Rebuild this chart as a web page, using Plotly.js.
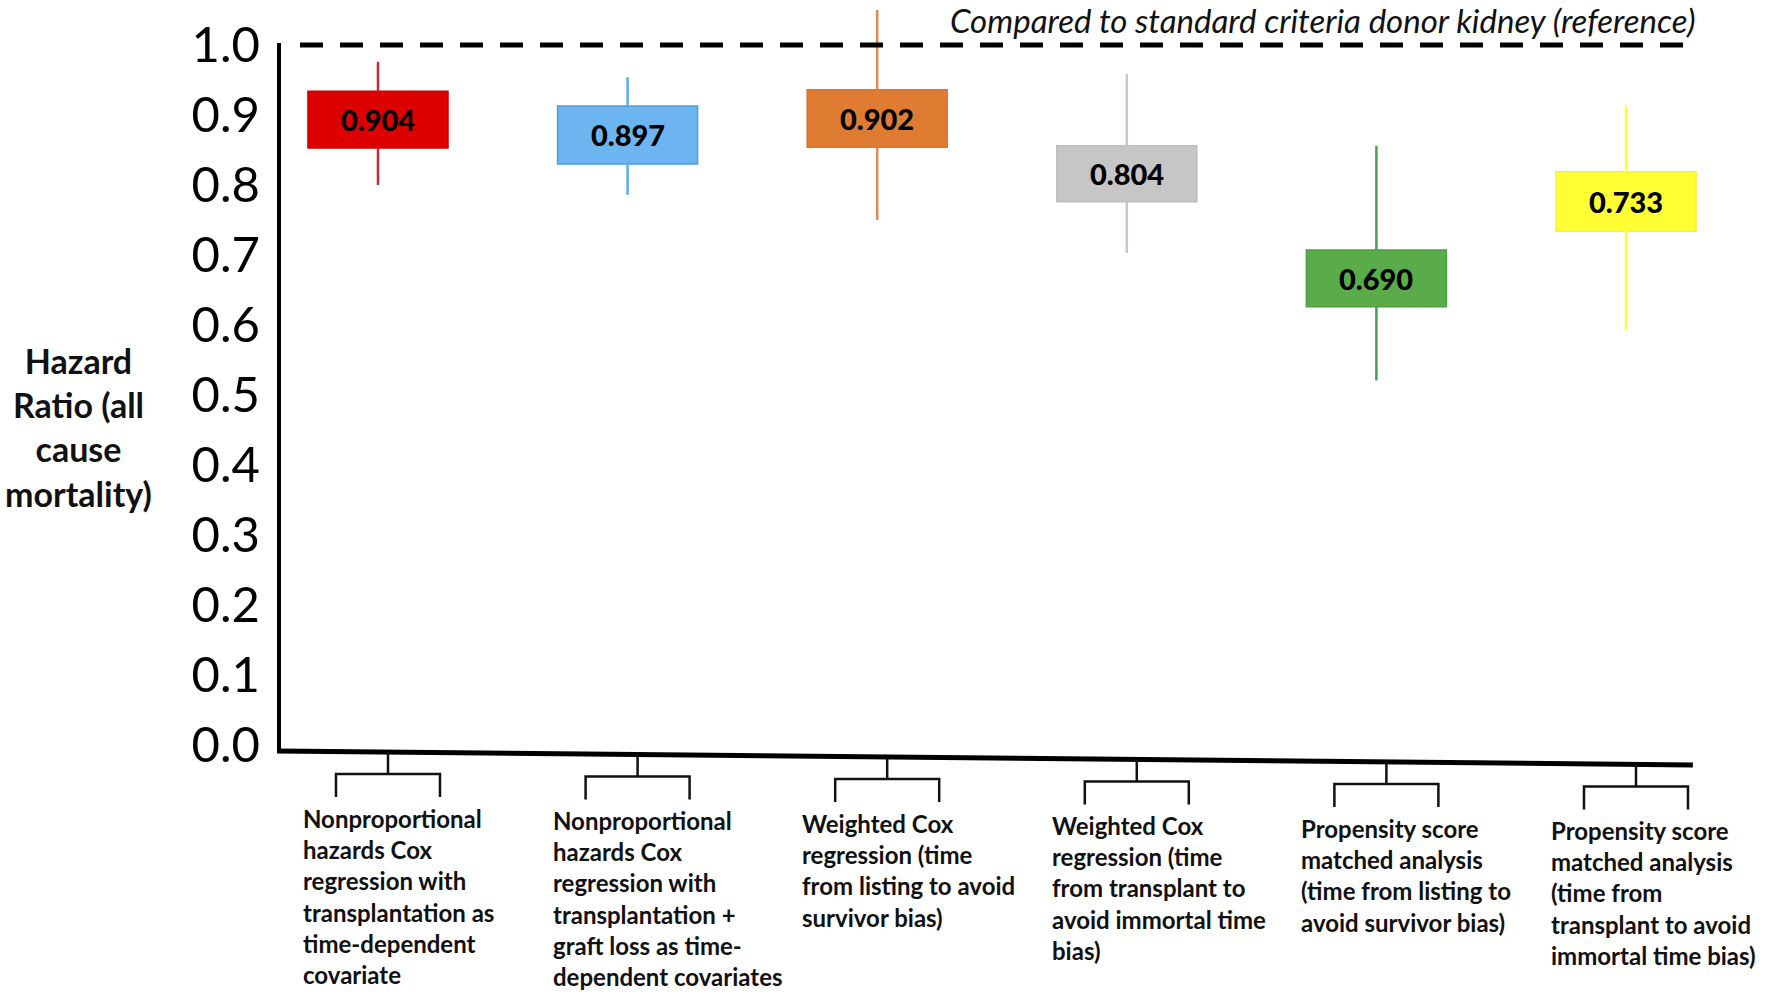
<!DOCTYPE html>
<html>
<head>
<meta charset="utf-8">
<script src="https://cdn.plot.ly/plotly-3.0.1.min.js"></script>
<style>html,body{margin:0;padding:0;background:#fff;}#chart{width:1772px;height:996px;}</style>
</head>
<body>
<div id="chart"></div>
<script>
// ---------- data ----------
const categories = [
  "Nonproportional<br>hazards Cox<br>regression with<br>transplantation as<br>time-dependent<br>covariate",
  "Nonproportional<br>hazards Cox<br>regression with<br>transplantation +<br>graft loss as time-<br>dependent covariates",
  "Weighted Cox<br>regression (time<br>from listing to avoid<br>survivor bias)",
  "Weighted Cox<br>regression (time<br>from transplant to<br>avoid immortal time<br>bias)",
  "Propensity score<br>matched analysis<br>(time from listing to<br>avoid survivor bias)",
  "Propensity score<br>matched analysis<br>(time from<br>transplant to avoid<br>immortal time bias)"
];
const hazardRatio = [0.904, 0.897, 0.902, 0.804, 0.690, 0.733];
const ciLow  = [0.800, 0.786, 0.750, 0.703, 0.521, 0.593];
const ciHigh = [0.976, 0.954, 1.050, 0.959, 0.856, 0.914];
const boxLow  = [0.853, 0.830, 0.854, 0.776, 0.626, 0.734];
const boxHigh = [0.934, 0.913, 0.936, 0.856, 0.707, 0.819];
const yTickVals = [0.0, 0.1, 0.2, 0.3, 0.4, 0.5, 0.6, 0.7, 0.8, 0.9, 1.0];
const yTickText = ["0.0","0.1","0.2","0.3","0.4","0.5","0.6","0.7","0.8","0.9","1.0"];
const referenceValue = 1.0;
const referenceText = "Compared to standard criteria donor kidney (reference)";
const yTitleText = "Hazard<br>Ratio (all<br>cause<br>mortality)";

// ---------- style ----------
const boxColors     = ["#dc0000", "#6cb5f0", "#e07b32", "#c6c6c6", "#5aac4a", "#ffff33"];
const boxEdgeColors = ["#d00000", "#4f9fdc", "#d8742c", "#bdbdbd", "#4e9f44", "#f4f430"];
const whiskerColors = ["#c42b37", "#5aaee6", "#e08a4e", "#c8c8c8", "#4a9e5c", "#ffff40"];
const FONT = "Lato, 'Open Sans', sans-serif";

const idx = categories.map((_, i) => i);
const PXX = 249.6, PXY = 700;          // px per data unit
const xL = -0.4046, xR = 5.268;         // axis line ends (data)
const yL = -6 / PXY, yR = -20 / PXY;    // slight tilt of drawn x axis
const axisY = xd => yL + (xd - xL) * (yR - yL) / (xR - xL);

const traces = [];
// boxes
traces.push({
  type: "bar",
  x: idx,
  base: boxLow,
  y: boxHigh.map((h, i) => h - boxLow[i]),
  width: 0.561,
  marker: { color: boxColors, line: { color: boxEdgeColors, width: 1.5 } },
  hoverinfo: "skip",
  showlegend: false
});
// whiskers (split around box)
idx.forEach(i => {
  traces.push({
    type: "scatter", mode: "lines",
    x: [i, i, null, i, i],
    y: [ciLow[i], boxLow[i], null, boxHigh[i], ciHigh[i]],
    line: { color: whiskerColors[i], width: 2.5 },
    hoverinfo: "skip", showlegend: false
  });
});

const shapes = [];
// y axis line
shapes.push({ type: "line", xref: "x", yref: "y", x0: -0.3966, x1: -0.3966, y0: yL, y1: 1.003,
  line: { color: "#000", width: 4 } });
// x axis line (slightly tilted as in the original)
shapes.push({ type: "line", xref: "x", yref: "y", x0: xL, x1: xR, y0: yL, y1: yR,
  line: { color: "#000", width: 5 } });
// reference dashed line
shapes.push({ type: "line", xref: "x", yref: "y", x0: -0.3125, x1: 5.284, y0: referenceValue, y1: referenceValue,
  line: { color: "#000", width: 5, dash: "23px,17px" } });
// brackets
idx.forEach(i => {
  const xc = i + 10 / PXX, half = 52 / PXX;
  const yA = axisY(xc), yH = yA - 22 / PXY, yB = yA - 45 / PXY;
  shapes.push({
    type: "path", xref: "x", yref: "y",
    path: `M ${xc - half},${yB} L ${xc - half},${yH} L ${xc + half},${yH} L ${xc + half},${yB} M ${xc},${yA} L ${xc},${yH}`,
    line: { color: "#111", width: 2.5 }
  });
});

const annotations = [];
// box value labels
idx.forEach(i => {
  annotations.push({
    xref: "x", yref: "y", x: i, y: (boxLow[i] + boxHigh[i]) / 2,
    text: hazardRatio[i].toFixed(3), showarrow: false,
    xanchor: "center", yanchor: "middle",
    font: { family: FONT, size: 29, color: "#000", weight: 900 }
  });
});
// category labels
idx.forEach(i => {
  annotations.push({
    xref: "x", yref: "y", x: i, xshift: -77, y: axisY(i) - 50 / PXY,
    text: "<b>" + categories[i] + "</b>", showarrow: false,
    xanchor: "left", yanchor: "top", align: "left",
    font: { family: FONT, size: 24, color: "#111" }
  });
});
// reference caption
annotations.push({
  xref: "paper", yref: "paper", x: 0.9979, y: 1 - 20 / 996,
  text: "<i>" + referenceText + "</i>", showarrow: false,
  xanchor: "right", yanchor: "middle",
  font: { family: FONT, size: 33, color: "#111" }
});
// y axis title
annotations.push({
  xref: "paper", yref: "paper", x: (79 - 277) / 1423, y: 1 - 427 / 996,
  text: "<b>" + yTitleText + "</b>", showarrow: false,
  xanchor: "center", yanchor: "middle", align: "center",
  font: { family: FONT, size: 34, color: "#111" }
});

const layout = {
  width: 1772, height: 996,
  margin: { l: 277, r: 72, t: 0, b: 0, pad: 0 },
  paper_bgcolor: "#fff", plot_bgcolor: "#fff",
  showlegend: false,
  barmode: "overlay",
  font: { family: FONT, color: "#111" },
  xaxis: { range: [xL, 5.2965], visible: false, fixedrange: true },
  yaxis: {
    range: [-0.3586, 1.0643],
    tickmode: "array", tickvals: yTickVals, ticktext: yTickText,
    showgrid: false, zeroline: false, showline: false, ticks: "",
    tickfont: { family: FONT, size: 49, color: "#000" },
    ticklabelstandoff: 16, fixedrange: true
  },
  shapes: shapes,
  annotations: annotations
};

Plotly.newPlot("chart", traces, layout, { displayModeBar: false, staticPlot: true });
</script>
</body>
</html>
